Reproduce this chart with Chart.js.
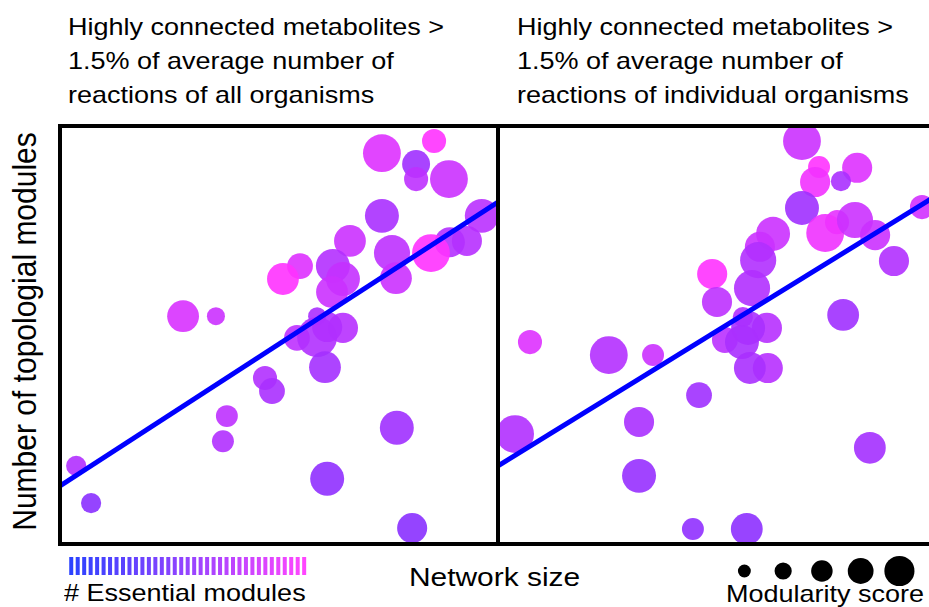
<!DOCTYPE html>
<html>
<head>
<meta charset="utf-8">
<script src="https://cdn.jsdelivr.net/npm/chart.js@4.4.1/dist/chart.umd.min.js"></script>
<style>
  html, body { margin: 0; padding: 0; background: #fff; }
  body { width: 929px; height: 607px; position: relative; overflow: hidden;
         font-family: "Liberation Sans", Arial, sans-serif; color: #000; }
  .box { position: absolute; }
  .txt { position: absolute; white-space: pre; font-size: 24px; line-height: 24px;
         transform-origin: 0 0; transform: scaleX(1.125); }
  .title { line-height: 34px; top: 10px; }
  #ytitle { left: 0; top: 0; font-size: 30px; line-height: 30px;
            transform: translate(24.4px, 331.5px) scaleX(1.125) rotate(-90deg) translate(-50%, -50%); }
  #xtitle { left: 409px; top: 563.7px; font-size: 26px; line-height: 26px; transform: scaleX(1.15); }
</style>
</head>
<body>
<div class="txt title" style="left:68px">Highly connected metabolites &gt;
1.5% of average number of
reactions of all organisms</div>
<div class="txt title" style="left:517px">Highly connected metabolites &gt;
1.5% of average number of
reactions of individual organisms</div>
<div class="txt" id="ytitle">Number of topologial modules</div>
<div class="txt" id="xtitle">Network size</div>
<div class="txt" style="left:64px; top:581.4px"># Essential modules</div>
<div class="txt" style="left:726px; top:581.7px">Modularity score</div>

<div class="box" style="left:56px; top:122px; width:446px; height:426px"><canvas id="leftPanel"></canvas></div>
<div class="box" style="left:494px; top:122px; width:446px; height:426px"><canvas id="rightPanel"></canvas></div>
<div class="box" style="left:67.8px; top:557px; width:239.4px; height:18px"><canvas id="essentialKey"></canvas></div>
<div class="box" style="left:724.6px; top:555px; width:193.75px; height:32px"><canvas id="modularityKey"></canvas></div>

<script>
// left panel: threshold from average of all organisms
const leftNetworkSize = [73.5, 85.4, 81.3, 81.3, 88.8, 73.5, 96.3, 92.9, 89.0, 84.7, 75.8, 76.7,
  66.2, 54.8, 50.9, 62.3, 64.6, 62.1, 28.1, 35.6, 58.7, 64.6, 54.1, 58.7, 61.0, 60.5,
  46.8, 48.4, 38.1, 37.2, 76.9, 61.0, 80.4, 3.7, 7.1];
const leftModules = [93.5, 96.4, 90.9, 87.3, 87.3, 78.5, 78.5, 72.5, 72.2, 69.6, 69.6, 63.6,
  72.5, 66.5, 63.4, 66.5, 63.4, 60.3, 54.5, 54.5, 54.5, 51.7, 49.3, 49.5, 51.9, 42.3,
  39.7, 36.6, 30.6, 24.6, 27.8, 15.6, 3.8, 18.7, 9.8];
const leftModularity = [0.88, 0.56, 0.65, 0.56, 0.88, 0.79, 0.79, 0.70, 0.70, 0.88, 0.84, 0.74,
  0.74, 0.60, 0.74, 0.79, 0.79, 0.74, 0.74, 0.42, 0.42, 0.70, 0.60, 0.93, 0.70, 0.74,
  0.56, 0.60, 0.51, 0.51, 0.79, 0.79, 0.70, 0.47, 0.47];
const leftEssential = [31, 36, 21.5, 26, 28, 23, 25.5, 25, 24.5, 36, 26, 28,
  28, 31, 36, 24.5, 27, 28, 30, 28, 23, 25, 26, 24, 24, 22,
  24, 23, 26, 24, 21.5, 19, 18, 24, 18];
const leftFit = [13.9, 81.8];

// right panel: threshold from each organism
const rightNetworkSize = [69.4, 73.3, 72.4, 82.0, 78.3, 69.4, 77.4, 74.7, 81.5, 86.1, 96.8, 90.4,
  62.8, 59.8, 59.4, 48.9, 58.0, 50.0, 78.8, 55.9, 61.4, 57.1, 51.8, 55.7, 61.6, 57.5,
  7.3, 25.3, 35.4, 45.9, 32.2, 3.9, 84.9, 32.2, 44.5, 56.8];
const rightModules = [96.4, 90.2, 86.6, 90.0, 86.8, 80.4, 77.0, 74.4, 77.5, 73.9, 80.6, 67.7,
  74.2, 71.1, 67.9, 64.6, 61.2, 57.9, 54.8, 54.3, 51.7, 51.7, 48.8, 48.3, 42.1, 42.1,
  48.3, 45.2, 45.2, 35.6, 29.2, 26.3, 23.0, 16.3, 3.6, 3.6];
const rightModularity = [0.88, 0.51, 0.70, 0.70, 0.47, 0.79, 0.56, 0.88, 0.84, 0.70, 0.56, 0.70,
  0.79, 0.70, 0.84, 0.70, 0.84, 0.70, 0.74, 0.47, 0.70, 0.79, 0.60, 0.79, 0.70, 0.74,
  0.56, 0.88, 0.51, 0.60, 0.70, 0.88, 0.74, 0.79, 0.51, 0.74];
const rightEssential = [28, 36, 34, 31, 23, 21.5, 32, 33.5, 28, 28, 29, 24,
  28, 28, 24, 36, 24, 26, 21.5, 24, 25, 23, 25.5, 23, 25, 23,
  31, 24.5, 28, 21.5, 23, 24, 22, 20, 19, 18.5];
const rightFit = [18.7, 83.3];

const fitX = [0, 100];

// legends
const essentialSteps = [0, 1, 2, 3, 4, 5, 6, 7, 8, 9, 10, 11, 12, 13, 14, 15, 16, 17, 18,
  19, 20, 21, 22, 23, 24, 25, 26, 27, 28, 29, 30, 31, 32, 33, 34, 35, 36];
const modularityLegend = [0.3, 0.4, 0.5, 0.6, 0.7];

const maxEssential = 36;

function essentialColor(n, a) {
  const t = n / maxEssential;
  const r = Math.round(20 + t * 235);
  const g = Math.round(45 + t * 5);
  return `rgba(${r},${g},255,${a})`;
}
const radiusFor = m => m * 21.5;

const frame = {
  id: 'frame',
  afterDatasetsDraw(chart) {
    const { ctx, chartArea: a } = chart;
    ctx.save();
    ctx.strokeStyle = '#000';
    ctx.lineWidth = 4;
    ctx.strokeRect(a.left, a.top, a.right - a.left, a.bottom - a.top);
    ctx.restore();
  }
};

function panel(id, sizes, modules, modularity, essential, fit) {
  const points = sizes.map((x, i) => ({ x, y: modules[i], r: radiusFor(modularity[i]) }));
  return new Chart(document.getElementById(id), {
    type: 'bubble',
    data: {
      datasets: [
        {
          type: 'line',
          data: fitX.map((x, i) => ({ x, y: fit[i] })),
          borderColor: '#0000ff',
          borderWidth: 5,
          pointRadius: 0,
          order: 0,
          clip: 0
        },
        {
          data: points,
          backgroundColor: essential.map(e => essentialColor(e, 0.9)),
          borderWidth: 0,
          order: 1,
          clip: 0
        }
      ]
    },
    options: {
      responsive: true,
      maintainAspectRatio: false,
      animation: false,
      events: [],
      layout: { padding: 4, autoPadding: false },
      scales: {
        x: { type: 'linear', min: 0, max: 100, display: false },
        y: { type: 'linear', min: 0, max: 100, display: false }
      },
      plugins: { legend: { display: false }, tooltip: { enabled: false } }
    },
    plugins: [frame]
  });
}

panel('leftPanel', leftNetworkSize, leftModules, leftModularity, leftEssential, leftFit);
panel('rightPanel', rightNetworkSize, rightModules, rightModularity, rightEssential, rightFit);

// colour key for essential modules
new Chart(document.getElementById('essentialKey'), {
  type: 'bar',
  data: {
    labels: essentialSteps,
    datasets: [{
      data: essentialSteps.map(() => 1),
      backgroundColor: essentialSteps.map(e => essentialColor(e, 0.9)),
      barPercentage: 0.62,
      categoryPercentage: 1
    }]
  },
  options: {
    responsive: true,
    maintainAspectRatio: false,
    animation: false,
    events: [],
    layout: { autoPadding: false },
    scales: { x: { display: false }, y: { display: false, min: 0, max: 1 } },
    plugins: { legend: { display: false }, tooltip: { enabled: false } }
  }
});

// size key for modularity score
new Chart(document.getElementById('modularityKey'), {
  type: 'bubble',
  data: {
    datasets: [{
      data: modularityLegend.map(m => ({ x: m, y: 0.5, r: radiusFor(m) })),
      backgroundColor: '#000',
      borderWidth: 0,
      clip: false
    }]
  },
  options: {
    responsive: true,
    maintainAspectRatio: false,
    animation: false,
    events: [],
    layout: { autoPadding: false },
    scales: {
      x: { type: 'linear', min: 0.25, max: 0.75, display: false },
      y: { type: 'linear', min: 0, max: 1, display: false }
    },
    plugins: { legend: { display: false }, tooltip: { enabled: false } }
  }
});
</script>
</body>
</html>
